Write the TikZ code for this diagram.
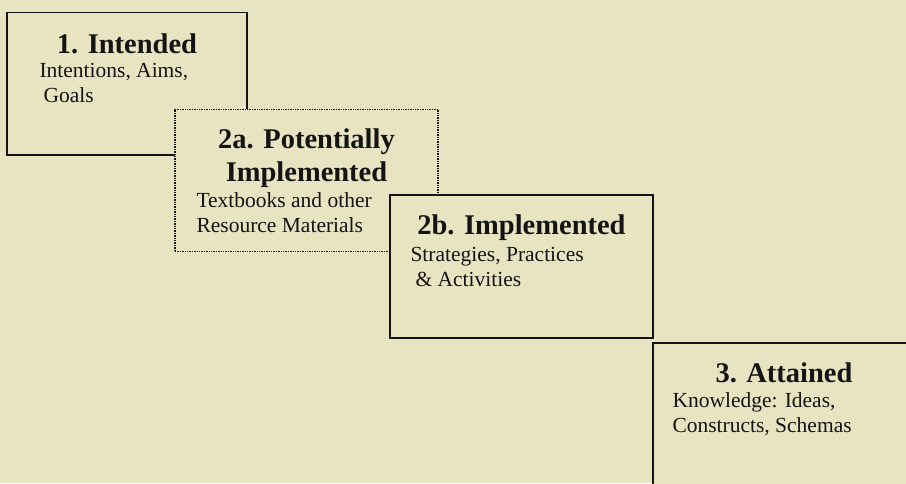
\documentclass[tikz,border=0pt]{standalone}
\usepackage{fontspec}
\setmainfont{Liberation Serif}
\usetikzlibrary{positioning,calc}
\definecolor{paper}{HTML}{E8E4C2}
\definecolor{ink}{HTML}{141414}

\tikzset{
  stage/.style={draw=ink, rectangle, line width=1.4pt, fill=paper, minimum height=143pt, inner sep=0pt},
  heading/.style={anchor=base, inner sep=0pt, text=ink, font=\fontsize{28.5}{33}\selectfont\bfseries},
  detail/.style={anchor=base west, inner sep=0pt, text=ink, align=left, font=\fontsize{21.5}{25}\selectfont}
}

\begin{document}
\begin{tikzpicture}[x=1pt, y=-1pt]
    \useasboundingbox (0,0) rectangle (906,483);
    \fill[paper] (0,0) rectangle (906,483);
    \clip (0,0) rectangle (906,483);

    % 1. intended
    \node (intended) [stage, minimum width=240pt, minimum height=142.5pt] at (127,83.75) {};
    \node (intendedhead) [heading] at ($(intended.north)+(0,41.5)$) {1. Intended};
    \node (intendedtext) [detail] at ($(intended.north west)+(33,90.5)$) {Intentions, Aims,\\\hspace{4pt}Goals};

    % 2a. potentially implemented (dotted)
    \node (potential) [stage, densely dotted, minimum width=263pt, minimum height=142.5pt] at (306.5,180.5) {};
    \node (potentialhead) [heading, align=center] at ($(potential.north)+(0,72.7)$) {2a. Potentially\\Implemented};
    \node (potentialtext) [detail] at ($(potential.north west)+(22,124)$) {Textbooks and other\\Resource Materials};

    % 2b. implemented
    \node (implemented) [stage, minimum width=263pt] at (521.5,266.5) {};
    \node (implementedhead) [heading] at ($(implemented.north)+(0,40)$) {2b. Implemented};
    \node (implementedtext) [detail] at ($(implemented.north west)+(21,92)$) {Strategies, Practices\\\hspace{5pt}\& Activities};

    % 3. attained (runs off the page)
    \node (attained) [stage, minimum width=262pt] at (784,414.5) {};
    \node (attainedhead) [heading] at ($(attained.north)+(0,40)$) {3. Attained};
    \node (attainedtext) [detail] at ($(attained.north west)+(20,90)$) {Knowledge: Ideas,\\Constructs, Schemas};
\end{tikzpicture}
\end{document}
